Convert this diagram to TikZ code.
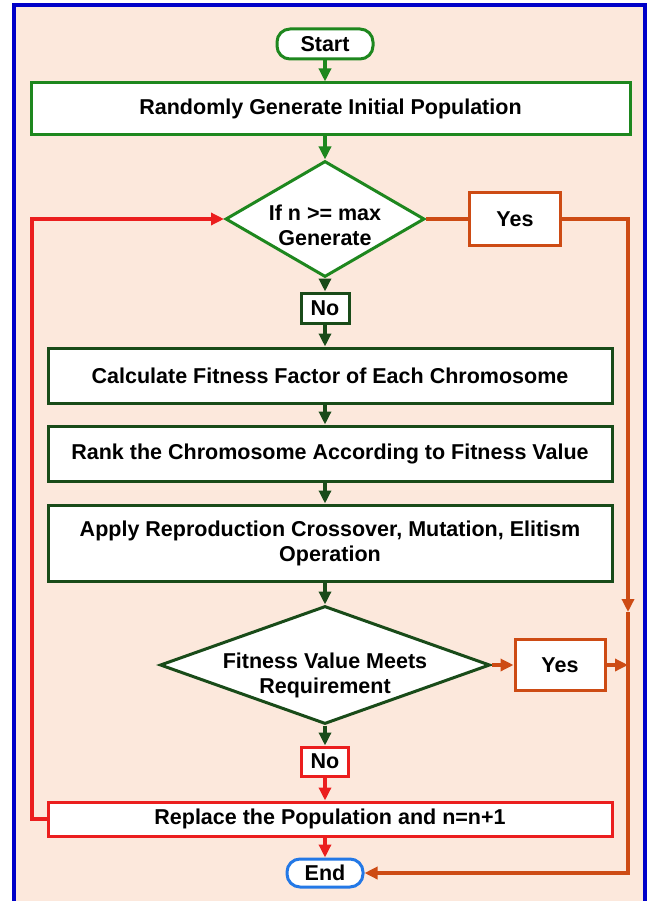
\documentclass[tikz,border=0pt]{standalone}
\usepackage{fontspec}
\setmainfont{Liberation Sans}
\usetikzlibrary{shapes.geometric, arrows.meta}

\definecolor{peach}{RGB}{252,232,220}
\definecolor{frameblue}{RGB}{0,0,200}
\definecolor{lgreen}{RGB}{30,135,30}
\definecolor{dgreen}{RGB}{25,75,25}
\definecolor{redc}{RGB}{235,30,30}
\definecolor{orangec}{RGB}{205,75,20}
\definecolor{endblue}{RGB}{35,120,230}

\tikzset{
  every node/.style={font=\fontsize{21.5}{25}\selectfont\bfseries, inner sep=0pt},
  procbox/.style={draw, fill=white, line width=3pt, align=center, minimum width=564pt},
  smallbox/.style={draw, fill=white, line width=3pt},
  term/.style={draw, fill=white, line width=3pt, rounded corners=13pt},
  decision/.style={diamond, draw, fill=white, line width=3pt},
  arr/.style={line width=3.5pt, -{Triangle[length=13pt,width=12pt]}},
  link/.style={line width=3.5pt}
}

\begin{document}
\begin{tikzpicture}[x=1pt, y=-1pt]
  % page and frame
  \fill[white] (0,0) rectangle (650,901);
  \useasboundingbox (0,0) rectangle (650,901);
  \draw[frameblue, line width=4pt, fill=peach] (14,5) rectangle (645,904);

  % flow nodes
  \node[term, draw=lgreen, minimum width=96pt, minimum height=30pt] (start) at (325,44) {Start};
  \node[procbox, draw=lgreen, minimum width=599pt, minimum height=52pt] (init) at (330.5,109) {Randomly Generate Initial Population};

  \node[decision, draw=lgreen, minimum width=199pt, minimum height=116pt] (d1) at (325,219) {};
  \node[align=center] (d1t) at (325,225) {If n >= max\\Generate};
  \node[smallbox, draw=orangec, minimum width=91pt, minimum height=52pt] (yes1) at (515,219) {Yes};
  \node[smallbox, draw=dgreen, minimum width=48pt, minimum height=30pt] (no1) at (325,308) {No};

  \node[procbox, draw=dgreen, minimum height=55pt] (fit) at (330,375.5) {Calculate Fitness Factor of Each Chromosome};
  \node[procbox, draw=dgreen, minimum height=55pt] (rank) at (330,453.5) {Rank the Chromosome According to Fitness Value};
  \node[procbox, draw=dgreen, minimum height=76pt] (apply) at (330,543) {Apply Reproduction Crossover, Mutation, Elitism\\Operation};

  \node[decision, draw=dgreen, minimum width=330pt, minimum height=118pt] (d2) at (325,665) {};
  \node[align=center] (d2t) at (325,675) {Fitness Value Meets\\Requirement};
  \node[smallbox, draw=orangec, minimum width=90pt, minimum height=51pt] (yes2) at (560,665) {Yes};
  \node[smallbox, draw=redc, minimum width=47pt, minimum height=29pt] (no2) at (325,761.5) {No};

  \node[procbox, draw=redc, minimum height=34pt] (repl) at (330,819) {Replace the Population and n=n+1};
  \node[term, draw=endblue, minimum width=76pt, minimum height=28pt] (end) at (325,873) {End};

  % bends of the side loops
  \coordinate (yr) at (628,219);
  \coordinate (ymid) at (628,612);
  \coordinate (y2r) at (628,665);
  \coordinate (ybot) at (628,873);
  \coordinate (rb) at (32,819);
  \coordinate (rt) at (32,219);

  % main column
  \draw[arr, lgreen] (start.south) -- (init.north -| start.south);
  \draw[arr, lgreen] (init.south -| d1.north) -- (d1.north);
  \draw[arr, dgreen] (d1.south) -- (no1.north);
  \draw[arr, dgreen] (no1.south) -- (fit.north -| no1.south);
  \draw[arr, dgreen] (fit.south -| no1.south) -- (rank.north -| no1.south);
  \draw[arr, dgreen] (rank.south -| no1.south) -- (apply.north -| no1.south);
  \draw[arr, dgreen] (apply.south -| d2.north) -- (d2.north);
  \draw[arr, dgreen] (d2.south) -- (no2.north);
  \draw[arr, redc] (no2.south) -- (repl.north -| no2.south);
  \draw[arr, redc] (repl.south -| end.north) -- (end.north);

  % yes branches
  \draw[link, orangec] (d1.east) -- (yes1.west);
  \draw[arr, orangec] (yes1.east) -- (yr) -- (ymid);
  \draw[arr, orangec] (ymid) -- (ybot) -- (end.east);
  \draw[arr, orangec] (d2.east) -- (yes2.west);
  \draw[arr, orangec] (yes2.east) -- (y2r);

  % loop back
  \draw[arr, redc] (repl.west) -- (rb) -- (rt) -- (d1.west);
\end{tikzpicture}
\end{document}
